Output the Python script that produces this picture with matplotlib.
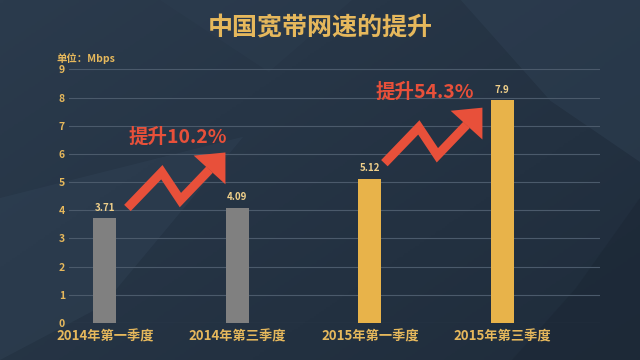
import matplotlib.pyplot as plt
import numpy as np
from matplotlib.patches import Polygon

plt.rcParams["font.family"] = ["Noto Sans CJK SC", "DejaVu Sans"]

GOLD = "#e6b85c"
RED = "#e8503a"

categories = ["2014年第一季度", "2014年第三季度", "2015年第一季度", "2015年第三季度"]
speeds = [3.71, 4.09, 5.12, 7.9]
bar_colors = ["#808080", "#808080", "#e8b34a", "#e8b34a"]
yticks = list(range(0, 10))
growth_labels = ["提升10.2%", "提升54.3%"]

fig = plt.figure(figsize=(6.4, 3.6), dpi=100)

# background gradient and faint facets
bg = fig.add_axes([0, 0, 1, 1], zorder=-10)
bg.axis("off")
gy, gx = np.mgrid[0:1:200j, 0:1:360j]
shade = 0.55 * gx + 0.45 * (1 - gy)
bg.imshow(shade, cmap=plt.matplotlib.colors.LinearSegmentedColormap.from_list(
    "bg", ["#2b3b4d", "#1f2c3b"]), extent=[0, 1, 0, 1], aspect="auto", origin="lower")
facets = [
    ([(0, 0), (0, 0.45), (0.38, 0.62), (0.16, 0.15)], "#34465a", 0.35),
    ([(0.72, 1), (1, 1), (1, 0.55), (0.86, 0.72)], "#34475b", 0.35),
    ([(0.8, 0), (1, 0), (1, 0.45), (0.9, 0.2)], "#1a2532", 0.4),
    ([(0.25, 1), (0.55, 1), (0.42, 0.8)], "#2f4053", 0.3),
]
for pts, col, a in facets:
    bg.add_patch(Polygon(pts, closed=True, facecolor=col, alpha=a, edgecolor="none"))
bg.set_xlim(0, 1)
bg.set_ylim(0, 1)

ax = fig.add_axes([0.108, 0.103, 0.83, 0.72])
ax.patch.set_alpha(0)
x = np.arange(len(categories))
bars = ax.bar(x, speeds, width=0.175, color=bar_colors, zorder=3)
for xi, v in zip(x, speeds):
    ax.annotate(f"{v:g}", (xi, v), xytext=(0, 4), textcoords="offset points",
                ha="center", va="bottom", color="#f0d08a", fontsize=7, fontweight="bold")

ax.set_xlim(-0.27, 3.74)
ax.set_ylim(0, 9.2)
ax.set_yticks(yticks)
ax.set_yticklabels([str(t) for t in yticks], color=GOLD, fontsize=7.5, fontweight="bold")
ax.set_xticks(x)
ax.set_xticklabels(categories, color=GOLD, fontsize=9.5, fontweight="bold")
ax.tick_params(axis="x", length=0, pad=5)
ax.tick_params(axis="y", length=0, pad=3)
ax.grid(axis="y", color="#4b5a6b", linewidth=0.8, zorder=0)
for side in ax.spines.values():
    side.set_visible(False)

# zigzag arrows: shape relative to tail point (data units)
zig = np.array([(0.0, 0.0), (0.26, 1.27), (0.40, 0.28), (0.62, 1.36)])
head = np.array([(0.50, 1.86), (0.74, 1.97), (0.74, 0.84)])
tails = [(0.17, 4.08), (2.11, 5.67)]
label_pos = [(0.18, 6.6), (2.04, 8.2)]
for (tx, ty), (lx, ly), lab in zip(tails, label_pos, growth_labels):
    pts = zig + (tx, ty)
    ax.plot(pts[:, 0], pts[:, 1], color=RED, linewidth=6.5, solid_joinstyle="miter",
            solid_capstyle="butt", zorder=4)
    ax.add_patch(Polygon(head + (tx, ty), closed=True, facecolor=RED, edgecolor="none", zorder=4))
    ax.text(lx, ly, lab, color=RED, fontsize=14, fontweight="heavy", va="center", ha="left", zorder=5)

fig.text(0.5, 0.922, "中国宽带网速的提升", ha="center", va="center", color=GOLD,
         fontsize=18, fontweight="bold")
fig.text(0.089, 0.838, "单位：Mbps", ha="left", va="center", color=GOLD,
         fontsize=7.5, fontweight="bold")

fig.savefig("out.png", dpi=100)
